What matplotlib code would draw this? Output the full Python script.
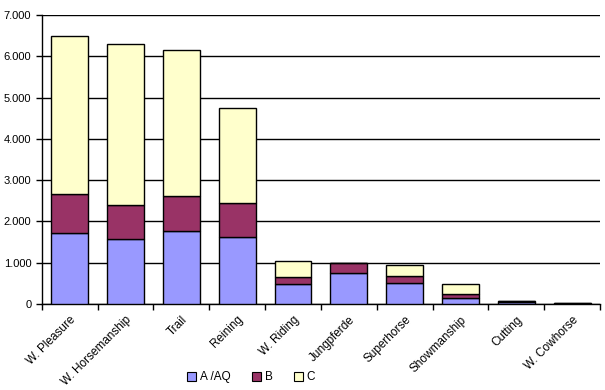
import numpy as np
import matplotlib
matplotlib.use('Agg')
import matplotlib.pyplot as plt
from matplotlib.ticker import FuncFormatter, MultipleLocator

plt.rcParams['font.family'] = ['Liberation Sans', 'DejaVu Sans']

categories = ['W. Pleasure', 'W. Horsemanship', 'Trail', 'Reining', 'W. Riding',
              'Jungpferde', 'Superhorse', 'Showmanship', 'Cutting', 'W. Cowhorse']
a_aq = [1720, 1570, 1760, 1615, 477, 743, 501, 153, 45, 12]
b = [940, 830, 855, 825, 169, 242, 170, 82, 20, 8]
c = [3820, 3910, 3535, 2310, 395, 0, 266, 242, 8, 4]

series = [('A /AQ', a_aq, '#9999FF'), ('B', b, '#993366'), ('C', c, '#FFFFCC')]

fig = plt.figure(figsize=(6.05, 3.9), dpi=100)
ax = fig.add_axes([0.069, 0.2205, 0.923, 0.741])

x = np.arange(len(categories))
bottom = np.zeros(len(categories))
for name, vals, col in series:
    ax.bar(x, vals, 0.66, bottom=bottom, color=col, edgecolor='black',
           linewidth=1, label=name, zorder=3)
    bottom += np.array(vals)

ax.set_xlim(-0.5, len(categories) - 0.5)
ax.set_ylim(0, 7000)
ax.yaxis.set_major_locator(MultipleLocator(1000))
ax.yaxis.set_major_formatter(FuncFormatter(lambda v, p: f'{int(v):,}'.replace(',', '.')))
ax.grid(axis='y', color='black', linewidth=1, zorder=0)

ax.set_xticks(x)
ax.set_xticklabels(categories, rotation=45, ha='right', rotation_mode='anchor', fontsize=8.5)
ax.set_xticks(np.arange(len(categories) + 1) - 0.5, minor=True)
ax.tick_params(axis='x', which='major', length=0, pad=7)
ax.tick_params(axis='x', which='minor', length=4, width=1, direction='out')
ax.tick_params(axis='y', length=4, width=1, direction='out', labelsize=8)

for s in ['top', 'right']:
    ax.spines[s].set_visible(False)
for s in ['left', 'bottom']:
    ax.spines[s].set_linewidth(1)

leg = fig.legend(loc='center', bbox_to_anchor=(0.415, 0.033), ncol=3, frameon=False,
                 fontsize=8.5, handlelength=0.8, handleheight=0.8, handletextpad=0.3,
                 columnspacing=1.8, borderaxespad=0)
for h in leg.legend_handles:
    h.set_linewidth(0.8)

fig.savefig('out.png', dpi=100)
